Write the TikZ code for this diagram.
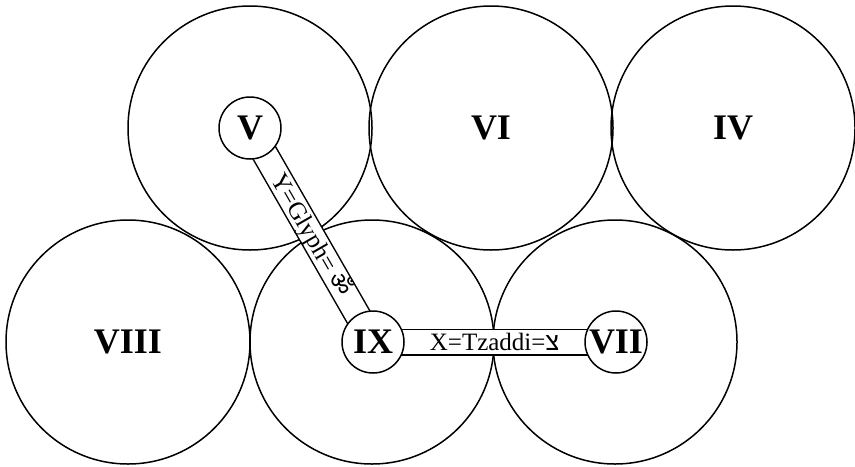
\documentclass[tikz,border=0pt]{standalone}
\usepackage{fontspec}
\setmainfont{Liberation Serif}
\newfontfamily\hebfont[Script=Hebrew]{Liberation Sans}
\newfontfamily\devfont[Script=Devanagari]{Noto Sans}
\pgfdeclarelayer{background}
\pgfdeclarelayer{bars}
\pgfsetlayers{background,bars,main}

\begin{document}
\begin{tikzpicture}[x=0.5pt, y=-0.5pt,
    zone/.style={circle, draw, line width=0.75pt, minimum size=122pt, inner sep=0pt,
                 font=\fontsize{18}{18}\selectfont\bfseries},
    hub/.style={circle, draw, fill=white, line width=0.75pt, minimum size=31pt, inner sep=0pt,
                font=\fontsize{18}{18}\selectfont\bfseries},
    bar/.style={draw, line width=0.75pt, double=white, double distance=12pt,
                shorten <=-4pt, shorten >=-4pt},
    barlabel/.style={font=\fontsize{12.5}{12.5}\selectfont, inner sep=0pt}]
    \useasboundingbox (0,0) rectangle (855,466);
    % big circles
    \begin{pgfonlayer}{background}
        \node[zone] (bigV) at (250,128) {};
        \node[zone] (VI) at (491,128) {VI};
        \node[zone] (IV) at (733,128) {IV};
        \node[zone] (VIII) at (128,342) {VIII};
        \node[zone] (bigIX) at (372,342) {};
        \node[zone] (bigVII) at (615,342) {};
    \end{pgfonlayer}
    % small circles
    \node[hub] (V) at (250,128) {V};
    \node[hub] (IX) at (373,342) {IX};
    \node[hub] (VII) at (616,342) {VII};
    % bars
    \begin{pgfonlayer}{bars}
        \draw[bar] (V) -- (IX) node[midway, sloped, barlabel] {Y=Glyph= {\devfont ॐ}};
        \draw[bar] (IX) -- (VII) node[midway, barlabel] {X=Tzaddi={\hebfont צ}};
    \end{pgfonlayer}
\end{tikzpicture}
\end{document}
